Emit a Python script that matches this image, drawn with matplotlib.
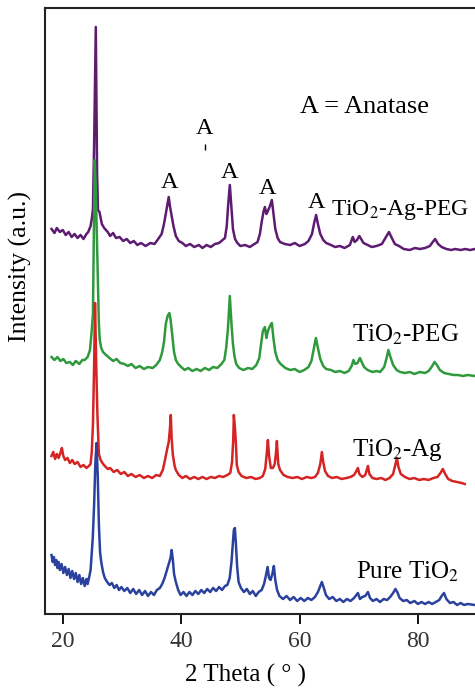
import numpy as np
import matplotlib
matplotlib.use("Agg")
import matplotlib.pyplot as plt

plt.rcParams['font.family'] = ['Liberation Serif', 'DejaVu Serif']
plt.rcParams['mathtext.fontset'] = 'stix'

# 2 theta (deg) / intensity (a.u.), one array pair per sample
peg_ag_x = [18.1, 18.6, 19.0, 19.5, 20.0, 20.5, 21.0, 21.5, 22.0, 22.5, 23.0, 23.5, 24.0, 24.3,
            24.7, 24.9, 25.1, 25.3, 25.58, 25.8, 25.95, 26.2, 26.4, 26.6, 27.0, 27.6, 28.0, 28.5,
            29.0, 29.6, 30.2, 30.8, 31.4, 32.0, 32.6, 33.2, 34.0, 34.8, 35.5, 36.0, 36.7, 37.1,
            37.4, 37.7, 37.9, 38.1, 38.4, 38.7, 39.1, 39.6, 40.2, 40.8, 41.5, 42.2, 43.0, 43.6,
            44.3, 45.0, 45.7, 46.4, 47.0, 47.4, 47.7, 47.95, 48.22, 48.5, 48.75, 49.1, 49.5, 50.0,
            50.8, 51.6, 52.4, 52.9, 53.3, 53.6, 53.9, 54.14, 54.4, 54.65, 55.0, 55.32, 55.6, 55.9,
            56.3, 56.7, 57.5, 58.4, 59.2, 60.0, 60.9, 61.5, 62.1, 62.5, 62.8, 63.1, 63.5, 64.0,
            64.5, 65.3, 66.0, 66.8, 67.6, 68.5, 68.8, 69.0, 69.3, 69.7, 70.1, 70.4, 70.8, 71.5,
            72.2, 73.0, 73.9, 74.5, 75.1, 75.5, 76.1, 76.8, 77.6, 78.6, 79.5, 80.3, 81.2, 82.0,
            82.5, 82.9, 83.4, 84.0, 84.8, 85.6, 86.3, 87.2, 88.0, 88.8, 89.6]
peg_ag_y = [385, 381, 386, 382, 384, 379, 382, 377, 380, 376, 379, 375, 380, 382,
            388, 395, 405, 470, 587, 440, 404, 402, 396, 390, 386, 382, 378, 381,
            376, 377, 373, 375, 371, 373, 369, 371, 368, 371, 370, 374, 380, 390,
            400, 410, 417, 408, 398, 388, 378, 373, 371, 368, 370, 367, 369, 366,
            369, 367, 370, 371, 374, 376, 388, 410, 429, 405, 385, 375, 371, 368,
            369, 367, 370, 372, 380, 392, 402, 407, 400, 403, 408, 414, 400, 385,
            376, 372, 370, 369, 371, 368, 370, 373, 380, 392, 399, 390, 380, 374,
            371, 369, 367, 368, 366, 369, 374, 377, 372, 374, 378, 375, 371, 369,
            367, 368, 370, 376, 382, 377, 370, 368, 365, 364, 366, 365, 366, 368,
            372, 375, 370, 367, 365, 364, 365, 364, 365, 364, 365]

peg_x = [18.1, 18.6, 19.1, 19.6, 20.1, 20.6, 21.2, 21.7, 22.2, 22.8, 23.3, 23.7, 24.2, 24.6,
         24.9, 25.1, 25.25, 25.41, 25.6, 25.9, 26.1, 26.25, 26.5, 26.8, 27.3, 27.9, 28.5, 29.1,
         29.7, 30.4, 31.0, 31.6, 32.3, 33.0, 33.7, 34.4, 35.2, 35.8, 36.4, 36.8, 37.1, 37.4,
         37.7, 38.0, 38.2, 38.5, 38.8, 39.1, 39.5, 40.0, 40.6, 41.2, 41.9, 42.6, 43.3, 44.0,
         44.7, 45.4, 46.1, 46.8, 47.3, 47.6, 47.9, 48.22, 48.5, 48.75, 49.0, 49.3, 49.8, 50.5,
         51.3, 52.0, 52.7, 53.2, 53.5, 53.8, 54.14, 54.4, 54.65, 55.0, 55.32, 55.6, 55.9, 56.3,
         56.8, 57.6, 58.4, 59.2, 60.0, 60.8, 61.5, 62.0, 62.4, 62.76, 63.1, 63.5, 64.0, 64.5,
         65.3, 66.0, 66.8, 67.6, 68.3, 68.8, 69.1, 69.4, 69.8, 70.2, 70.5, 70.9, 71.5, 72.3,
         73.0, 73.6, 74.3, 74.7, 75.0, 75.3, 75.8, 76.4, 77.0, 77.8, 78.6, 79.4, 80.3, 81.2,
         81.8, 82.3, 82.8, 83.2, 83.7, 84.4, 85.2, 86.0, 86.8, 87.6, 88.4, 89.6]
peg_y = [257, 254, 257, 253, 255, 251, 252, 249, 253, 250, 254, 254, 257, 264,
         284, 300, 380, 454, 420, 344, 290, 274, 266, 262, 259, 256, 253, 255,
         251, 250, 248, 250, 246, 248, 245, 247, 246, 249, 254, 262, 272, 290,
         298, 301, 295, 278, 262, 254, 250, 247, 244, 246, 243, 245, 243, 246,
         244, 247, 246, 250, 254, 266, 285, 318, 290, 270, 258, 250, 246, 244,
         246, 245, 249, 256, 270, 283, 287, 276, 283, 288, 291, 275, 262, 254,
         250, 246, 244, 245, 242, 244, 247, 253, 265, 276, 266, 255, 248, 245,
         244, 242, 243, 241, 243, 248, 254, 250, 251, 256, 252, 247, 244, 242,
         243, 242, 247, 256, 264, 258, 249, 244, 242, 241, 242, 240, 242, 241,
         243, 247, 252, 249, 244, 241, 240, 239, 239, 238, 239, 238]

ag_x = [18.1, 18.4, 18.7, 19.0, 19.3, 19.6, 19.85, 20.1, 20.4, 20.8, 21.2, 21.6, 22.0, 22.5,
        23.0, 23.5, 24.0, 24.4, 24.7, 24.9, 25.1, 25.3, 25.45, 25.65, 25.85, 26.1, 26.4, 26.7,
        27.1, 27.6, 28.0, 28.6, 29.2, 29.8, 30.4, 31.0, 31.6, 32.3, 33.0, 33.7, 34.4, 35.1,
        35.8, 36.4, 36.9, 37.2, 37.6, 37.9, 38.1, 38.25, 38.4, 38.6, 38.9, 39.1, 39.6, 40.2,
        40.8, 41.5, 42.2, 42.9, 43.6, 44.3, 45.0, 45.7, 46.4, 47.1, 47.8, 48.3, 48.6, 48.8,
        48.9, 49.1, 49.25, 49.4, 49.7, 50.2, 51.0, 51.8, 52.6, 53.3, 53.8, 54.2, 54.45, 54.65,
        54.85, 55.15, 55.5, 55.8, 56.0, 56.17, 56.4, 56.7, 57.3, 58.0, 58.8, 59.6, 60.4, 61.2,
        62.0, 62.6, 63.1, 63.5, 63.77, 64.0, 64.3, 64.8, 65.5, 66.3, 67.1, 67.9, 68.6, 69.2,
        69.6, 69.86, 70.1, 70.6, 71.1, 71.4, 71.55, 71.8, 72.3, 73.0, 73.8, 74.5, 75.2, 75.8,
        76.2, 76.45, 76.7, 77.1, 77.8, 78.6, 79.4, 80.2, 81.0, 81.8, 82.6, 83.3, 83.8, 84.2,
        84.6, 85.1, 85.8, 86.6, 87.4, 87.9]
ag_y = [158, 162, 155, 160, 156, 161, 166, 158, 154, 156, 151, 154, 150, 152,
        147, 149, 146, 148, 150, 162, 190, 250, 311, 250, 200, 160, 154, 151,
        148, 145, 146, 142, 144, 140, 142, 138, 140, 137, 139, 136, 138, 136,
        139, 138, 144, 152, 164, 172, 185, 199, 175, 159, 148, 144, 139, 136,
        138, 135, 137, 135, 137, 135, 137, 136, 138, 137, 139, 141, 152, 175,
        199, 185, 170, 149, 142, 138, 136, 137, 135, 136, 138, 145, 160, 174,
        158, 146, 146, 150, 160, 173, 150, 144, 139, 137, 136, 137, 135, 137,
        136, 137, 141, 150, 162, 152, 143, 138, 136, 137, 135, 136, 137, 139,
        143, 146, 140, 137, 139, 145, 148, 140, 136, 135, 136, 134, 136, 140,
        150, 156, 147, 140, 137, 135, 136, 134, 135, 134, 136, 137, 141, 145,
        140, 135, 133, 132, 131, 130]

pure_x = [18.1, 18.3, 18.5, 18.7, 18.9, 19.1, 19.3, 19.5, 19.8, 20.1, 20.4, 20.7, 21.0, 21.3,
          21.6, 21.9, 22.2, 22.5, 22.8, 23.1, 23.4, 23.7, 24.0, 24.2, 24.5, 24.7, 24.9, 25.07,
          25.3, 25.5, 25.7, 25.9, 26.1, 26.3, 26.5, 26.8, 27.1, 27.5, 27.9, 28.3, 28.7, 29.1,
          29.5, 29.9, 30.4, 30.9, 31.4, 31.9, 32.4, 32.9, 33.4, 33.9, 34.4, 34.9, 35.4, 35.9,
          36.4, 36.8, 37.2, 37.6, 37.9, 38.2, 38.4, 38.6, 38.8, 39.1, 39.5, 39.9, 40.4, 40.9,
          41.4, 41.9, 42.4, 42.9, 43.4, 43.9, 44.4, 44.9, 45.4, 45.9, 46.4, 46.9, 47.4, 47.8,
          48.2, 48.5, 48.7, 48.9, 49.07, 49.25, 49.45, 49.7, 50.1, 50.6, 51.1, 51.6, 52.1, 52.6,
          53.1, 53.6, 54.0, 54.3, 54.6, 54.85, 55.1, 55.4, 55.66, 55.9, 56.2, 56.6, 57.2, 57.8,
          58.4, 59.0, 59.6, 60.2, 60.8, 61.4, 62.0, 62.6, 63.1, 63.5, 63.77, 64.1, 64.45, 65.0,
          65.6, 66.2, 66.8, 67.4, 68.0, 68.6, 69.2, 69.6, 69.86, 70.2, 70.6, 71.1, 71.55, 71.9,
          72.4, 73.0, 73.6, 74.2, 74.8, 75.3, 75.8, 76.2, 76.5, 76.9, 77.5, 78.1, 78.7, 79.4,
          80.0, 80.6, 81.2, 81.8, 82.4, 83.0, 83.6, 84.0, 84.4, 84.8, 85.4, 86.0, 86.6, 87.2,
          87.8, 88.4, 89.6]
pure_y = [59, 52, 57, 49, 54, 46, 52, 44, 50, 41, 47, 39, 45, 36,
          43, 35, 41, 32, 39, 30, 36, 28, 35, 30, 38, 44, 62, 76,
          110, 150, 171, 140, 90, 62, 52, 42, 36, 32, 29, 31, 26, 29,
          24, 27, 23, 26, 21, 25, 20, 24, 19, 23, 18, 22, 19, 24,
          26, 30, 36, 44, 50, 56, 64, 54, 40, 32, 24, 19, 22, 18,
          22, 19, 23, 20, 24, 21, 25, 22, 26, 23, 27, 24, 28, 29,
          36, 52, 68, 84, 86, 70, 48, 32, 26, 22, 25, 20, 23, 18,
          22, 24, 30, 38, 47, 36, 34, 40, 48, 34, 24, 18, 15, 18,
          14, 17, 13, 16, 13, 16, 14, 17, 22, 28, 32, 26, 19, 15,
          17, 13, 15, 12, 15, 13, 16, 19, 21, 15, 17, 18, 22, 16,
          13, 15, 12, 15, 14, 17, 21, 25, 22, 16, 13, 14, 11, 13,
          10, 12, 10, 12, 10, 12, 14, 18, 21, 15, 11, 12, 9, 11,
          9, 10, 9]

names = ['TiO$_2$-Ag-PEG', 'TiO$_2$-PEG', 'TiO$_2$-Ag', 'Pure TiO$_2$']
colors = ['#5e1b72', '#2f9a3c', '#d42424', '#2a429e']
label_x = [65.3, 68.9, 68.9, 69.6]
label_y = [404, 279, 164, 42]
label_size = [17, 18, 18, 18]

# anatase peak markers
anatase_x = [38.1, 48.2, 54.6, 62.9, 44.0]
anatase_y = [431, 441, 426, 411, 486]

fig = plt.figure(figsize=(4.75, 6.89), dpi=100)
ax = fig.add_axes([45 / 475, 75 / 689, 444 / 475, 606 / 689])

series = [(peg_ag_x, peg_ag_y), (peg_x, peg_y), (ag_x, ag_y), (pure_x, pure_y)]
for (xs, ys), c in zip(series, colors):
    ax.plot(xs, ys, color=c, lw=1.8)

for name, lx, ly, fs in zip(names, label_x, label_y, label_size):
    ax.text(lx, ly, name, fontsize=fs, ha='left', va='center')

for px, py in zip(anatase_x, anatase_y):
    ax.text(px, py, 'A', fontsize=17.5, ha='center', va='center')
ax.vlines(44.0, 464, 470, color='black', lw=1)
ax.text(70.9, 507, 'A = Anatase', fontsize=19, ha='center', va='center')

ax.set_xlim(17, 92)
ax.set_ylim(0, 606)
ax.set_xticks([20, 40, 60, 80])
ax.set_yticks([])
ax.tick_params(axis='x', direction='out', length=7, width=1.3, labelsize=17,
               labelcolor='#333333', pad=5)
for s in ax.spines.values():
    s.set_linewidth(1.5)
    s.set_color('#222222')

fig.text(245 / 475, 1 - 675 / 689, '2 Theta ( ° )', fontsize=18, ha='center', va='center')
fig.text(20 / 475, 1 - 267 / 689, 'Intensity (a.u.)', fontsize=18.5, rotation=90,
         ha='center', va='center')

fig.savefig('out.png', dpi=100)
